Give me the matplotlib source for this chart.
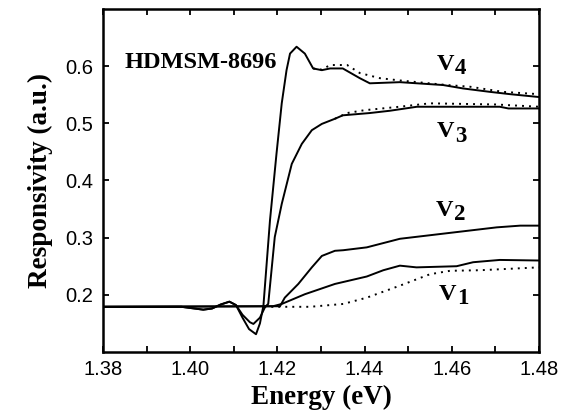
import matplotlib
matplotlib.use("Agg")
import matplotlib.pyplot as plt
from matplotlib.ticker import MultipleLocator, FixedLocator

# ---- data ----
v4_x = [1.380, 1.398, 1.401, 1.403, 1.405, 1.407, 1.409, 1.4105, 1.412, 1.4135,
        1.4151, 1.416, 1.4168, 1.4183, 1.4198, 1.4210, 1.4221, 1.4229, 1.4244,
        1.4263, 1.4282, 1.4302, 1.4321, 1.435, 1.4389, 1.4412, 1.4481, 1.458,
        1.4626, 1.4688, 1.4734, 1.480]
v4_y = [0.179, 0.179, 0.176, 0.174, 0.176, 0.183, 0.188, 0.182, 0.160, 0.140,
        0.131, 0.150, 0.181, 0.330, 0.447, 0.535, 0.593, 0.622, 0.634,
        0.622, 0.596, 0.593, 0.596, 0.596, 0.579, 0.570, 0.572, 0.567,
        0.561, 0.555, 0.551, 0.546]
v4_dot_x = [1.4282, 1.4302, 1.4321, 1.436, 1.4389, 1.4435, 1.4481, 1.4589,
            1.4642, 1.4718, 1.480]
v4_dot_y = [0.596, 0.594, 0.602, 0.602, 0.588, 0.579, 0.575, 0.567,
            0.564, 0.555, 0.551]

v3_x = [1.380, 1.398, 1.401, 1.403, 1.405, 1.407, 1.409, 1.4105, 1.412, 1.4137,
        1.4145, 1.416, 1.4172, 1.4179, 1.4194, 1.4210, 1.4233, 1.4256, 1.4279,
        1.4302, 1.4332, 1.4350, 1.4412, 1.4458, 1.452, 1.471, 1.473, 1.480]
v3_y = [0.179, 0.179, 0.176, 0.174, 0.176, 0.183, 0.188, 0.182, 0.165, 0.152,
        0.149, 0.160, 0.179, 0.184, 0.301, 0.359, 0.429, 0.464, 0.488,
        0.499, 0.508, 0.514, 0.518, 0.522, 0.529, 0.529, 0.526, 0.526]
v3_dot_x = [1.4332, 1.436, 1.440, 1.448, 1.455, 1.470, 1.480]
v3_dot_y = [0.508, 0.518, 0.523, 0.529, 0.535, 0.533, 0.529]

v2_x = [1.380, 1.4206, 1.4217, 1.4248, 1.4279, 1.4302, 1.4332, 1.4351, 1.4405,
        1.4481, 1.4603, 1.4703, 1.4757, 1.480]
v2_y = [0.179, 0.180, 0.195, 0.219, 0.248, 0.268, 0.277, 0.278, 0.283,
        0.298, 0.309, 0.318, 0.321, 0.321]

v1_x = [1.380, 1.4190, 1.4210, 1.4263, 1.4332, 1.4405, 1.4443, 1.4481, 1.4519,
        1.4611, 1.4649, 1.4710, 1.480]
v1_y = [0.179, 0.180, 0.184, 0.201, 0.219, 0.232, 0.243, 0.251, 0.248,
        0.250, 0.257, 0.261, 0.260]
v1_dot_x = [1.417, 1.4275, 1.4351, 1.4405, 1.4481, 1.4550, 1.4596, 1.4665, 1.480]
v1_dot_y = [0.179, 0.179, 0.184, 0.195, 0.216, 0.236, 0.242, 0.243, 0.248]

labels = ["4", "3", "2", "1"]
label_x = [1.4566, 1.4566, 1.4563, 1.4571]
label_y = [0.593, 0.4754, 0.3386, 0.191]

serif = "Liberation Serif"
sans = "Liberation Sans"

fig = plt.figure(figsize=(5.74, 4.19), dpi=100)
ax = fig.add_axes([0.1794, 0.160, 0.7596, 0.8185])

lw = 1.4
dot = (0, (1, 2.6))
ax.plot(v4_x, v4_y, color="black", lw=lw)
ax.plot(v4_dot_x, v4_dot_y, color="black", lw=1.4, ls=dot)
ax.plot(v3_x, v3_y, color="black", lw=lw)
ax.plot(v3_dot_x, v3_dot_y, color="black", lw=1.4, ls=dot)
ax.plot(v2_x, v2_y, color="black", lw=lw)
ax.plot(v1_x, v1_y, color="black", lw=lw)
ax.plot(v1_dot_x, v1_dot_y, color="black", lw=1.4, ls=dot)

ax.set_xlim(1.38, 1.48)
ax.set_ylim(0.1, 0.7)
ax.xaxis.set_major_locator(MultipleLocator(0.02))
ax.xaxis.set_minor_locator(MultipleLocator(0.01))
ax.yaxis.set_major_locator(FixedLocator([0.2, 0.3, 0.4, 0.5, 0.6]))
ax.set_xticklabels([f"{v:.2f}" for v in ax.get_xticks()])
ax.tick_params(which="both", direction="in", top=True, right=True,
               length=4, width=1.3, labelsize=14.5)
ax.tick_params(axis="x", pad=6)
ax.tick_params(axis="y", pad=7)
for lab in ax.get_xticklabels() + ax.get_yticklabels():
    lab.set_family(sans)
for sp in ax.spines.values():
    sp.set_linewidth(1.8)

ax.set_xlabel("Energy (eV)", family=serif, fontweight="bold", fontsize=19.5, labelpad=4)
ax.set_ylabel("Responsivity (a.u.)", family=serif, fontweight="bold", fontsize=19.5, labelpad=9)

ax.text(1.3850, 0.596, "HDMSM-8696", family=serif, fontweight="bold",
        fontsize=17.5, ha="left", va="baseline")

for d, x, y in zip(labels, label_x, label_y):
    ax.text(x, y, "V", family=serif, fontweight="bold", fontsize=17.5,
            ha="left", va="baseline")
    ax.annotate(d, xy=(x, y), xytext=(13, -3), textcoords="offset points",
                family=serif, fontweight="bold", fontsize=16.5,
                ha="left", va="baseline")

fig.savefig("out.png", dpi=100)
